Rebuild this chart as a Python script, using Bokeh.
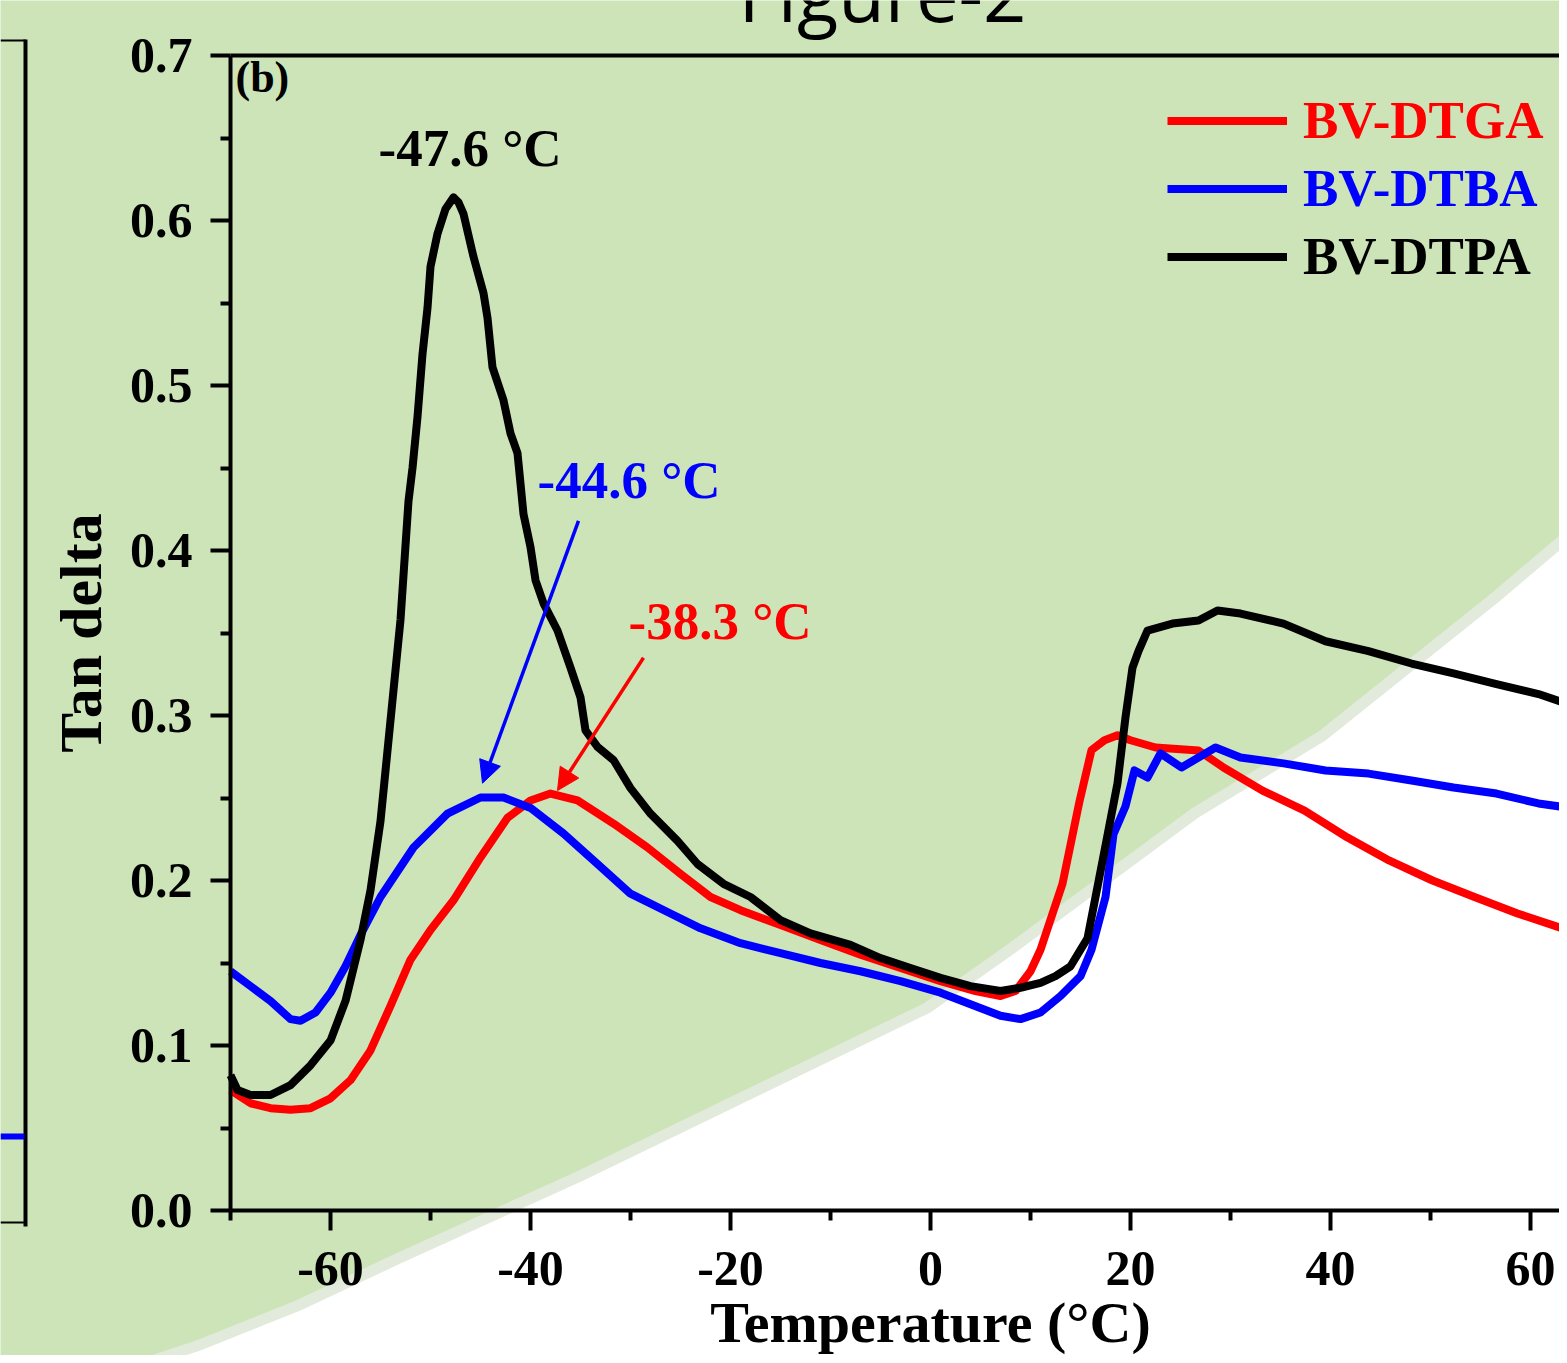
from bokeh.plotting import figure
from bokeh.models import (Range1d, LinearAxis, FixedTicker, PrintfTickFormatter, Label,
                          Arrow, NormalHead, Legend, LegendItem, PolyAnnotation, BoxAnnotation)
from bokeh.embed import file_html
from bokeh.resources import INLINE

# ---------------- data ----------------
dtpa_x = [-70, -69.3, -68, -66, -64, -62, -60, -58.5, -57, -56, -55, -54, -53, -52.2, -51.8, -51.3,
          -50.8, -50.3, -50, -49.3, -48.5, -47.7, -47.2, -46.7, -45.7, -44.7, -44.3, -43.8, -42.7,
          -42, -41.3, -40.7, -40, -39.5, -38.7, -37.3, -36, -35, -34.5, -33.3, -31.7, -30, -28,
          -25.3, -23.3, -20.7, -18, -15, -12, -8, -5, -2, 1, 4, 7, 9, 11, 12.5, 14, 15.7, 17.4,
          18.7, 19.5, 20.2, 20.8, 21.7, 24.2, 26.8, 28.7, 31, 35.3, 39.5, 43.8, 48.1, 52.3, 56.6,
          60.8, 63.7]
dtpa_y = [0.082, 0.073, 0.070, 0.070, 0.076, 0.088, 0.103, 0.127, 0.164, 0.194, 0.236, 0.297,
          0.358, 0.430, 0.450, 0.481, 0.519, 0.547, 0.572, 0.592, 0.607, 0.614, 0.611, 0.604,
          0.578, 0.556, 0.541, 0.511, 0.491, 0.471, 0.459, 0.422, 0.402, 0.382, 0.368, 0.3515,
          0.329, 0.311, 0.291, 0.281, 0.273, 0.256, 0.2405, 0.224, 0.210, 0.198, 0.190, 0.176,
          0.168, 0.161, 0.153, 0.147, 0.141, 0.136, 0.133, 0.135, 0.138, 0.142, 0.148, 0.165,
          0.218, 0.259, 0.299, 0.329, 0.339, 0.3515, 0.3557, 0.3576, 0.3636, 0.3618, 0.3557,
          0.345, 0.339, 0.3315, 0.3255, 0.319, 0.313, 0.307]

dtga_x = [-70, -68, -66, -64, -62, -60, -58, -56, -54, -52, -50, -47.7, -45, -42.3, -40, -38,
          -35.3, -31.7, -28.3, -25, -22, -19, -15, -11, -7, -3, 1, 4.5, 7, 8.5, 10, 11, 13.2,
          14.9, 16.1, 17.4, 18.7, 20, 22.5, 26.8, 29.3, 33.2, 37.4, 41.7, 45.9, 50.2, 54.4, 58.7,
          63.7]
dtga_y = [0.073, 0.065, 0.062, 0.061, 0.062, 0.068, 0.079, 0.097, 0.124, 0.152, 0.170, 0.188,
          0.214, 0.238, 0.2485, 0.2527, 0.2485, 0.2345, 0.220, 0.204, 0.190, 0.182, 0.173, 0.164,
          0.155, 0.147, 0.139, 0.133, 0.130, 0.133, 0.145, 0.158, 0.198, 0.248, 0.279, 0.285,
          0.288, 0.285, 0.2806, 0.2788, 0.2685, 0.2545, 0.2424, 0.226, 0.212, 0.200, 0.190,
          0.180, 0.170]

dtba_x = [-70, -68, -66, -64, -63, -61.5, -60, -58.5, -57, -55, -51.7, -48.3, -45, -42.7, -40,
          -36.7, -33.3, -30, -26, -23, -19, -15, -11, -7, -3, 1, 4, 7, 9, 11, 13, 15, 16.1, 17.5,
          18.3, 19.5, 20.4, 21.7, 23, 25.1, 28.5, 31, 35.3, 39.5, 43.8, 48.1, 52.3, 56.6, 60.8,
          63.7]
dtba_y = [0.145, 0.136, 0.127, 0.116, 0.115, 0.120, 0.132, 0.148, 0.167, 0.190, 0.220, 0.2405,
          0.2503, 0.2503, 0.244, 0.2285, 0.210, 0.192, 0.180, 0.171, 0.162, 0.156, 0.150, 0.145,
          0.139, 0.132, 0.125, 0.118, 0.116, 0.120, 0.130, 0.142, 0.158, 0.190, 0.228, 0.245,
          0.2667, 0.2624, 0.277, 0.2685, 0.2806, 0.2745, 0.271, 0.2667, 0.2648, 0.2606, 0.2564,
          0.2527, 0.2467, 0.2442]

series_names = ["BV-DTGA", "BV-DTBA", "BV-DTPA"]
series_colors = ["#ff0000", "#0000ff", "#000000"]

x_major_ticks = [-60, -40, -20, 0, 20, 40, 60]
x_minor_ticks = [-70, -50, -30, -10, 10, 30, 50]
y_major_ticks = [0.0, 0.1, 0.2, 0.3, 0.4, 0.5, 0.6, 0.7]
y_minor_ticks = [0.05, 0.15, 0.25, 0.35, 0.45, 0.55, 0.65]

peak_texts = ["-47.6 \u00b0C", "-44.6 \u00b0C", "-38.3 \u00b0C"]
peak_text_x = [-55.2, -39.3, -30.2]
peak_text_y = [0.6442, 0.4430, 0.3570]
peak_text_colors = ["#000000", "#0000ff", "#ff0000"]
arrow_x0 = [-35.2, -28.7]
arrow_y0 = [0.418, 0.335]
arrow_x1 = [-44.8, -37.3]
arrow_y1 = [0.259, 0.2545]
arrow_colors = ["#0000ff", "#ff0000"]

# ---------------- layout / style constants ----------------
W, H = 1559, 1355          # canvas
PX_PER_X = 10.0            # px per °C
PX_PER_Y = 1650.0          # px per tan-delta unit
X0_PX, Y0_PX = 230, 1210   # canvas position of (-70, 0)
GREEN = "#cce4b8"
SERIF = "Liberation Serif"

x_lo = -70 - X0_PX / PX_PER_X
x_hi = x_lo + W / PX_PER_X
y_hi = Y0_PX / PX_PER_Y
y_lo = -(H - Y0_PX) / PX_PER_Y

p = figure(width=W, height=H, x_range=Range1d(x_lo, x_hi), y_range=Range1d(y_lo, y_hi),
           output_backend="svg", toolbar_location=None, min_border=0,
           x_axis_location=None, y_axis_location=None)
p.background_fill_color = GREEN
p.border_fill_color = GREEN
p.outline_line_color = None
p.xgrid.visible = False
p.ygrid.visible = False

# scanned-page white wedge at bottom-right (decorative, canvas px)
wedge_x = [160, 200, 300, 400, 583, 930, 1011, 1198, 1325, 1500, 1567, 1620, 1620, 160]
wedge_y = [1363, 1350, 1310, 1263, 1180, 1012, 955, 817, 740, 600, 543, 543, 1420, 1420]
blur_x = [v - 7 for v in wedge_x[:-3]] + [1620, 1620, 150]
blur_y = [v - 9 for v in wedge_y[:-3]] + [530, 1420, 1420]
p.add_layout(PolyAnnotation(xs=blur_x, ys=blur_y, xs_units="canvas", ys_units="canvas",
                            fill_color="#e2eadb", fill_alpha=1, line_color=None, level="underlay"))
p.add_layout(PolyAnnotation(xs=wedge_x, ys=wedge_y, xs_units="canvas", ys_units="canvas",
                            fill_color="#ffffff", fill_alpha=1, line_color=None, level="underlay"))

# cut-off neighbouring panel (a) at the far left (decorative)
for (l, r, t, b, c) in [(0, 25, 39, 41, "black"), (0, 25, 1221, 1223, "black"),
                        (23, 27, 39, 1226, "black"), (0, 24, 1133, 1139, "#0000ff")]:
    p.add_layout(BoxAnnotation(left=l, right=r, top=t, bottom=b, left_units="canvas",
                               right_units="canvas", top_units="canvas", bottom_units="canvas",
                               fill_color=c, fill_alpha=1, line_color=None, level="underlay"))

# ---------------- curves ----------------
renderers = []
for xs, ys, c in [(dtga_x, dtga_y, series_colors[0]), (dtba_x, dtba_y, series_colors[1]),
                  (dtpa_x, dtpa_y, series_colors[2])]:
    renderers.append(p.line(xs, ys, line_color=c, line_width=8, line_join="round"))

# ---------------- axes (library axes fixed at the data frame) ----------------
def style_axis(ax):
    ax.axis_line_width = 4
    ax.axis_line_color = "black"
    ax.major_tick_line_width = 4
    ax.minor_tick_line_width = 4
    ax.major_tick_out = 20
    ax.major_tick_in = 0
    ax.minor_tick_out = 10
    ax.minor_tick_in = 0
    ax.major_label_text_font = SERIF
    ax.major_label_text_font_style = "bold"
    ax.major_label_text_font_size = "50px"
    ax.major_label_text_color = "black"
    ax.axis_label_text_font = SERIF
    ax.axis_label_text_font_style = "bold"
    ax.axis_label_text_color = "black"

xa = LinearAxis(fixed_location=0, bounds=(-70, x_hi),
                ticker=FixedTicker(ticks=x_major_ticks, minor_ticks=x_minor_ticks),
                formatter=PrintfTickFormatter(format="%d"))
style_axis(xa)
xa.major_label_standoff = 21
p.add_layout(xa, "below")

ya = LinearAxis(fixed_location=-70, bounds=(0, 0.7),
                ticker=FixedTicker(ticks=y_major_ticks, minor_ticks=y_minor_ticks),
                formatter=PrintfTickFormatter(format="%.1f"))
style_axis(ya)
ya.major_label_standoff = 18
ya.axis_label = "Tan delta"
ya.axis_label_text_font_size = "60px"
ya.axis_label_standoff = 13
p.add_layout(ya, "left")

top = LinearAxis(fixed_location=0.7, bounds=(-70, x_hi), ticker=FixedTicker(ticks=[]),
                 axis_line_width=4, major_label_text_font_size="0px",
                 major_tick_line_color=None, minor_tick_line_color=None, major_label_standoff=0)
p.add_layout(top, "above")

# x axis title (centred on 0 °C as in the reference)
p.add_layout(Label(x=0, y=-(1322 - Y0_PX) / PX_PER_Y, text="Temperature (\u00b0C)",
                   text_align="center", text_baseline="alphabetic", text_font=SERIF,
                   text_font_style="bold", text_font_size="58px", text_color="black"))

# figure title, cut at the top of the page
p.add_layout(Label(x=-4.8, y=(Y0_PX + 8) / PX_PER_Y, text="Figure-2", text_align="center",
                   text_baseline="alphabetic", text_font="Open Sans", text_font_size="76px",
                   text_color="black"))

# panel tag
p.add_layout(Label(x=-69.5, y=0.7015, text="(b)", text_align="left", text_baseline="top",
                   text_font=SERIF, text_font_style="bold", text_font_size="44px",
                   text_color="black"))

# peak annotations
for t, x, y, c in zip(peak_texts, peak_text_x, peak_text_y, peak_text_colors):
    p.add_layout(Label(x=x, y=y, text=t, text_align="left", text_baseline="alphabetic",
                       text_font=SERIF, text_font_style="bold", text_font_size="53px",
                       text_color=c))
for x0, y0, x1, y1, c in zip(arrow_x0, arrow_y0, arrow_x1, arrow_y1, arrow_colors):
    p.add_layout(Arrow(x_start=x0, y_start=y0, x_end=x1, y_end=y1, line_color=c, line_width=3.5,
                       end=NormalHead(size=22, fill_color=c, line_color=c)))

# legends: one per series so each label gets its own colour
legend_row_centres_px = [120, 188, 256]
leg_h = 61
for r, name, c, yc in zip(renderers, series_names, series_colors, legend_row_centres_px):
    lg = Legend(items=[LegendItem(label=name, renderers=[r])],
                location=(1167, H - yc - leg_h / 2),
                orientation="vertical", glyph_width=120, glyph_height=leg_h, label_height=leg_h,
                label_standoff=16, padding=0, margin=0, spacing=0,
                border_line_color=None, background_fill_alpha=0,
                label_text_font=SERIF, label_text_font_style="bold", label_text_font_size="53px",
                label_text_color=c, label_text_baseline="middle")
    p.add_layout(lg)

open("out.html", "w").write(file_html(p, INLINE))
